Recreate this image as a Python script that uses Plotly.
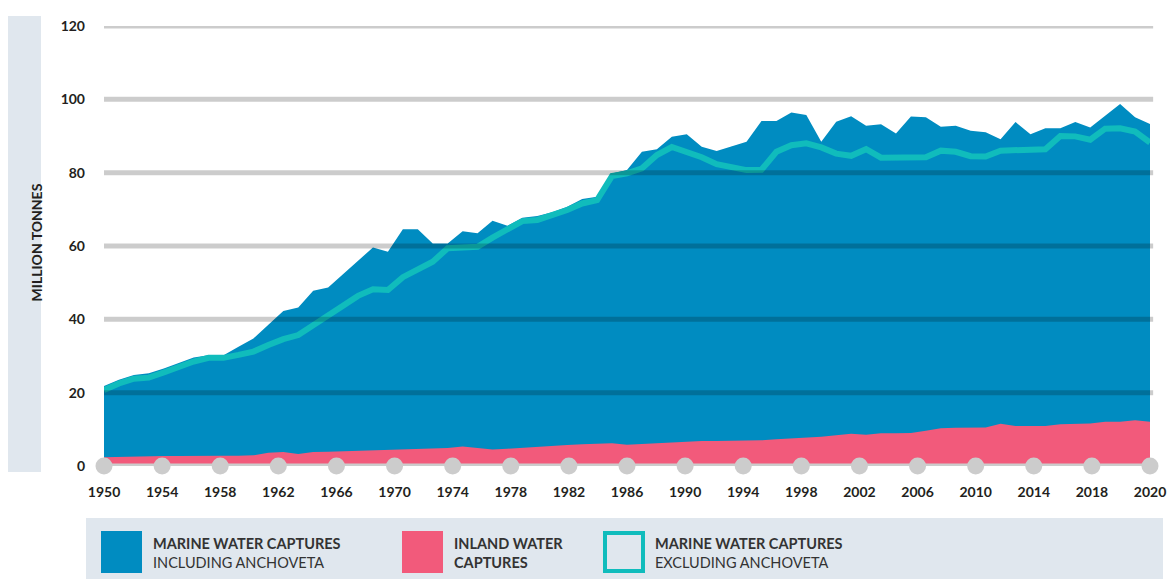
import numpy as np
import plotly.graph_objects as go

# capture production, million tonnes
years = list(range(1950, 2021))

marine_incl_anchoveta = [
    21.8, 23.5, 24.8, 25.3, 26.6, 28.0, 29.6, 30.2, 30.2, 32.5,
    34.8, 38.5, 42.3, 43.2, 47.8, 48.7, 52.3, 56.0, 59.6, 58.4,
    64.6, 64.6, 60.7, 60.7, 64.0, 63.5, 66.9, 65.5, 67.7, 68.2,
    69.2, 70.7, 72.8, 73.4, 79.8, 80.7, 85.7, 86.4, 89.8, 90.5,
    87.1, 85.9, 87.1, 88.4, 94.1, 94.1, 96.4, 95.7, 88.4, 93.9,
    95.4, 92.8, 93.2, 90.7, 95.3, 95.1, 92.5, 92.8, 91.4, 91.0,
    89.1, 93.8, 90.5, 92.1, 92.1, 93.8, 92.3, 95.5, 98.7, 95.1,
    93.3,
]

marine_excl_anchoveta = [
    20.7, 22.5, 23.8, 24.1, 25.5, 27.0, 28.5, 29.5, 29.5, 30.3,
    31.2, 33.0, 34.6, 35.7, 38.4, 41.0, 43.7, 46.4, 48.2, 48.0,
    51.5, 53.5, 55.7, 59.4, 59.6, 59.8, 62.3, 64.5, 66.8, 67.1,
    68.3, 69.8, 71.6, 72.5, 79.1, 79.8, 81.2, 84.8, 87.0, 85.8,
    84.2, 82.3, 81.3, 80.7, 80.8, 85.7, 87.5, 88.0, 86.9, 85.2,
    84.6, 86.4, 84.1, 84.1, 84.1, 84.2, 86.0, 85.7, 84.5, 84.4,
    86.0, 86.1, 86.6, 86.4, 90.0, 89.9, 89.0, 92.0, 92.1, 91.2,
    88.2,
]

inland_captures = [
    2.4, 2.5, 2.6, 2.7, 2.7, 2.7, 2.8, 2.8, 2.8, 2.8,
    2.9, 3.6, 3.8, 3.3, 3.8, 3.9, 4.0, 4.2, 4.4, 4.5,
    4.6, 4.6, 4.6, 4.9, 5.3, 5.0, 4.5, 4.7, 5.0, 5.3,
    5.5, 5.7, 5.9, 6.0, 6.2, 5.8, 6.0, 6.3, 6.5, 6.7,
    6.8, 6.8, 6.8, 6.8, 7.0, 7.3, 7.5, 7.7, 8.0, 8.4,
    8.8, 8.5, 8.9, 8.9, 9.0, 9.6, 10.3, 10.4, 10.4, 10.5,
    11.5, 10.9, 10.9, 10.9, 11.4, 11.5, 11.6, 12.1, 12.1, 12.5,
    12.1,
]

x_tick_labels = ["1950", "1954", "1958", "1962", "1966", "1970", "1974",
                 "1978", "1982", "1986", "1990", "1994", "1998", "2002",
                 "2006", "2010", "2014", "2018", "2020"]
y_ticks = [0, 20, 40, 60, 80, 100, 120]

legend_titles = ["MARINE WATER CAPTURES", "INLAND WATER", "MARINE WATER CAPTURES"]
legend_subtitles = ["INCLUDING ANCHOVETA", "CAPTURES", "EXCLUDING ANCHOVETA"]

BLUE = "#008cc1"
PINK = "#f25a7b"
TEAL = "#10bcbc"
GREY = "#cccccc"
PANEL = "#e0e7ee"
INK = "#231f20"
FONT = "Lato"

# plot area in pixels: x 104..1150, y 26..466
L, R, T, B = 104, 1150, 26, 466
W, H = 1167, 579


def px(x):
    return (x - L) / (R - L)


def py(y):
    return (B - y) / (B - T)


# labels are spread evenly across the axis in the original
tick_pos = np.linspace(years[0], years[-1], len(x_tick_labels))

fig = go.Figure()
fig.add_trace(go.Scatter(x=years, y=marine_incl_anchoveta, mode="lines",
                         line=dict(width=0, color=BLUE), fill="tozeroy",
                         fillcolor=BLUE, name="Marine incl. anchoveta"))
fig.add_trace(go.Scatter(x=years, y=inland_captures, mode="lines",
                         line=dict(width=0, color=PINK), fill="tozeroy",
                         fillcolor=PINK, name="Inland"))
fig.add_trace(go.Scatter(x=years, y=marine_excl_anchoveta, mode="lines",
                         line=dict(width=6, color=TEAL),
                         name="Marine excl. anchoveta"))
fig.add_trace(go.Scatter(x=tick_pos, y=[0] * len(tick_pos), mode="markers",
                         marker=dict(size=17, color=GREY), cliponaxis=False,
                         name="ticks"))

shapes = []
# grid lines drawn over the areas, darkening what lies below
for v in y_ticks[1:]:
    shapes.append(dict(type="line", xref="paper", yref="y", x0=0, x1=1.003,
                       y0=v, y1=v, layer="above",
                       line=dict(color="rgba(0,0,0,0.2)", width=5)))
shapes.append(dict(type="line", xref="paper", yref="y", x0=0, x1=1,
                   y0=0, y1=0, layer="above", line=dict(color=GREY, width=5)))

# y title panel
shapes.append(dict(type="rect", xref="paper", yref="paper", layer="below",
                   x0=px(8), x1=px(41), y0=py(472), y1=py(16),
                   line=dict(width=0), fillcolor=PANEL))
# legend panel
shapes.append(dict(type="rect", xref="paper", yref="paper", layer="below",
                   x0=px(86), x1=px(1163), y0=py(580), y1=py(518),
                   line=dict(width=0), fillcolor=PANEL))
swatch_x = [101, 402, 603]
shapes.append(dict(type="rect", xref="paper", yref="paper", layer="above",
                   x0=px(swatch_x[0]), x1=px(swatch_x[0] + 41), y0=py(573), y1=py(531),
                   line=dict(width=0), fillcolor=BLUE))
shapes.append(dict(type="rect", xref="paper", yref="paper", layer="above",
                   x0=px(swatch_x[1]), x1=px(swatch_x[1] + 41), y0=py(573), y1=py(531),
                   line=dict(width=0), fillcolor=PINK))
shapes.append(dict(type="rect", xref="paper", yref="paper", layer="above",
                   x0=px(swatch_x[2] + 2), x1=px(swatch_x[2] + 40), y0=py(571), y1=py(533),
                   line=dict(width=4, color=TEAL), fillcolor=PANEL))

annotations = [dict(text="<b>MILLION TONNES</b>", textangle=-90, xref="paper",
                    yref="paper", x=px(25), y=py(243), showarrow=False,
                    font=dict(family=FONT, size=14, color=INK))]
for sx, t1, t2 in zip(swatch_x, legend_titles, legend_subtitles):
    annotations.append(dict(text="<b>%s</b>" % t1, xref="paper", yref="paper",
                            x=px(sx + 50), y=py(543), xanchor="left",
                            yanchor="middle", showarrow=False,
                            font=dict(family=FONT, size=14.5, color="#333333")))
    bold = "<b>%s</b>" % t2 if t2 == "CAPTURES" else t2
    annotations.append(dict(text=bold, xref="paper", yref="paper",
                            x=px(sx + 50), y=py(562), xanchor="left",
                            yanchor="middle", showarrow=False,
                            font=dict(family=FONT, size=14.5, color="#333333")))

fig.update_layout(
    width=W, height=H,
    margin=dict(l=L, r=W - R, t=T, b=H - B),
    paper_bgcolor="white", plot_bgcolor="white",
    showlegend=False,
    shapes=shapes, annotations=annotations,
    xaxis=dict(range=[years[0], years[-1]], tickvals=tick_pos,
               ticktext=["<b>%s</b>" % t for t in x_tick_labels],
               showgrid=False, zeroline=False, showline=False,
               ticks="", ticklabelstandoff=16, automargin=False,
               tickfont=dict(family=FONT, size=14, color=INK)),
    yaxis=dict(range=[0, 120], tickvals=y_ticks,
               ticktext=["<b>%d</b>" % v for v in y_ticks],
               showgrid=False, zeroline=False, showline=False,
               ticks="", ticklabelstandoff=18, automargin=False,
               tickfont=dict(family=FONT, size=14, color=INK)),
)

# no page margin and no scrollbars, so the figure sits at the window's corner
page_fix = ("document.body.style.margin='0';"
            "document.body.style.overflow='hidden';"
            "document.documentElement.style.overflow='hidden';")
fig.write_html("out.html", config={"displayModeBar": False}, post_script=page_fix)
